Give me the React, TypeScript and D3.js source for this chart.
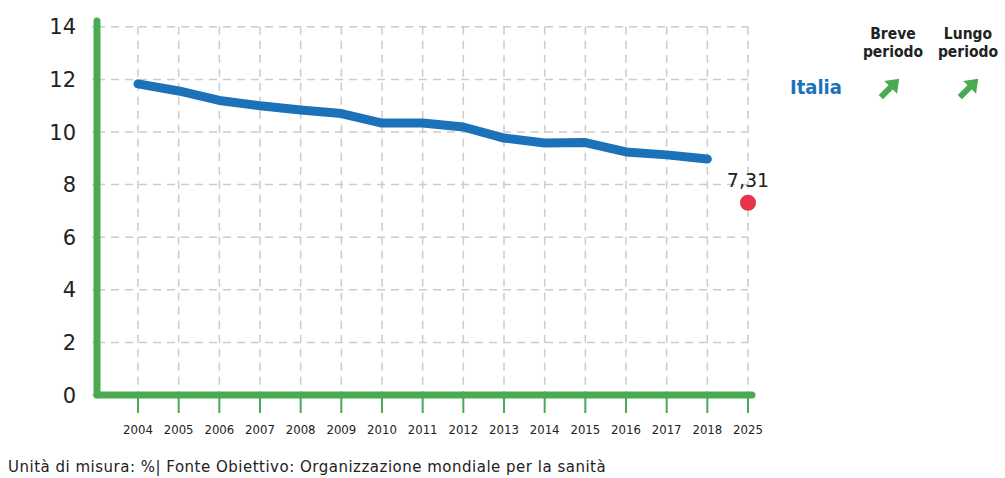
import React from "react";
import * as d3 from "d3";

const years = ["2004","2005","2006","2007","2008","2009","2010","2011","2012","2013","2014","2015","2016","2017","2018","2025"];
const seriesYears = ["2004","2005","2006","2007","2008","2009","2010","2011","2012","2013","2014","2015","2016","2017","2018"];
const italiaValues = [11.83,11.56,11.2,11.0,10.84,10.7,10.34,10.34,10.19,9.77,9.58,9.6,9.24,9.13,8.97];
const targetYear = "2025";
const targetValue = 7.31;
const yTicks = [0,2,4,6,8,10,12,14];

const GREEN = "#4aaa50";
const BLUE = "#1b72b9";
const RED = "#e8334a";

export default function App() {
  const W = 1005, H = 478;
  const x = d3.scalePoint<string>().domain(years).range([138, 748]);
  const y = d3.scaleLinear().domain([0, 14]).range([395, 26.8]);
  const line = d3.line<number>().x((_, i) => x(seriesYears[i])!).y(d => y(d)).curve(d3.curveLinear);
  const cond = "'DejaVu Sans Condensed', 'DejaVu Sans', sans-serif";
  const font = "'DejaVu Sans', sans-serif";
  const arrow = (cx: number, cy: number) => (
    <g transform={`translate(${cx},${cy}) rotate(-45)`}>
      <path d="M -13 0 L 3 0" stroke={GREEN} strokeWidth={6} />
      <path d="M 1 -9 L 13 0 L 1 9 Z" fill={GREEN} />
    </g>
  );
  return (
    <svg width={W} height={H} style={{ position: "absolute", left: 0, top: 0, background: "#fff" }}>
      {yTicks.filter(t => t > 0).map(t => (
        <line key={"h" + t} x1={97} x2={748} y1={y(t)} y2={y(t)} stroke="#cccccc" strokeWidth={1.5} strokeDasharray="8,6" />
      ))}
      {years.map(yr => (
        <line key={"v" + yr} x1={x(yr)} x2={x(yr)} y1={y(14)} y2={395} stroke="#cccccc" strokeWidth={1.5} strokeDasharray="8,6" />
      ))}
      {years.map(yr => (
        <g key={"t" + yr}>
          <line x1={x(yr)} x2={x(yr)} y1={395} y2={413} stroke={GREEN} strokeWidth={2} />
          <text x={x(yr)} y={434} textAnchor="middle" fontFamily={cond} fontSize={13} fill="#222">{yr}</text>
        </g>
      ))}
      {yTicks.map(t => (
        <g key={"y" + t}>
          <line x1={92} x2={100} y1={y(t)} y2={y(t)} stroke="#cccccc" strokeWidth={1.5} />
          <text x={76} y={y(t) + 7.5} textAnchor="end" fontFamily={font} fontSize={21} fill="#222">{t}</text>
        </g>
      ))}
      <line x1={97} x2={97} y1={21} y2={395} stroke={GREEN} strokeWidth={7} strokeLinecap="round" />
      <line x1={97} x2={752} y1={395} y2={395} stroke={GREEN} strokeWidth={7} strokeLinecap="round" />
      <path d={line(italiaValues) || ""} fill="none" stroke={BLUE} strokeWidth={9} strokeLinecap="round" strokeLinejoin="round" />
      <circle cx={x(targetYear)} cy={y(targetValue)} r={8} fill={RED} />
      <text x={x(targetYear)} y={y(targetValue) - 16} textAnchor="middle" fontFamily={font} fontSize={19} fill="#222">{String(targetValue).replace(".", ",")}</text>
      <text x={893} y={39} textAnchor="middle" fontFamily={cond} fontWeight="bold" fontSize={15.5} fill="#222">Breve</text>
      <text x={893} y={57} textAnchor="middle" fontFamily={cond} fontWeight="bold" fontSize={15.5} fill="#222">periodo</text>
      <text x={968} y={39} textAnchor="middle" fontFamily={cond} fontWeight="bold" fontSize={15.5} fill="#222">Lungo</text>
      <text x={968} y={57} textAnchor="middle" fontFamily={cond} fontWeight="bold" fontSize={15.5} fill="#222">periodo</text>
      <text x={790} y={94} fontFamily={cond} fontWeight="bold" fontSize={20} fill={BLUE}>Italia</text>
      {arrow(890, 88)}
      {arrow(969, 88)}
      <text x={8} y={472} fontFamily={font} fontSize={15} letterSpacing={0.5} fill="#222">Unità di misura: %| Fonte Obiettivo: Organizzazione mondiale per la sanità</text>
    </svg>
  );
}
